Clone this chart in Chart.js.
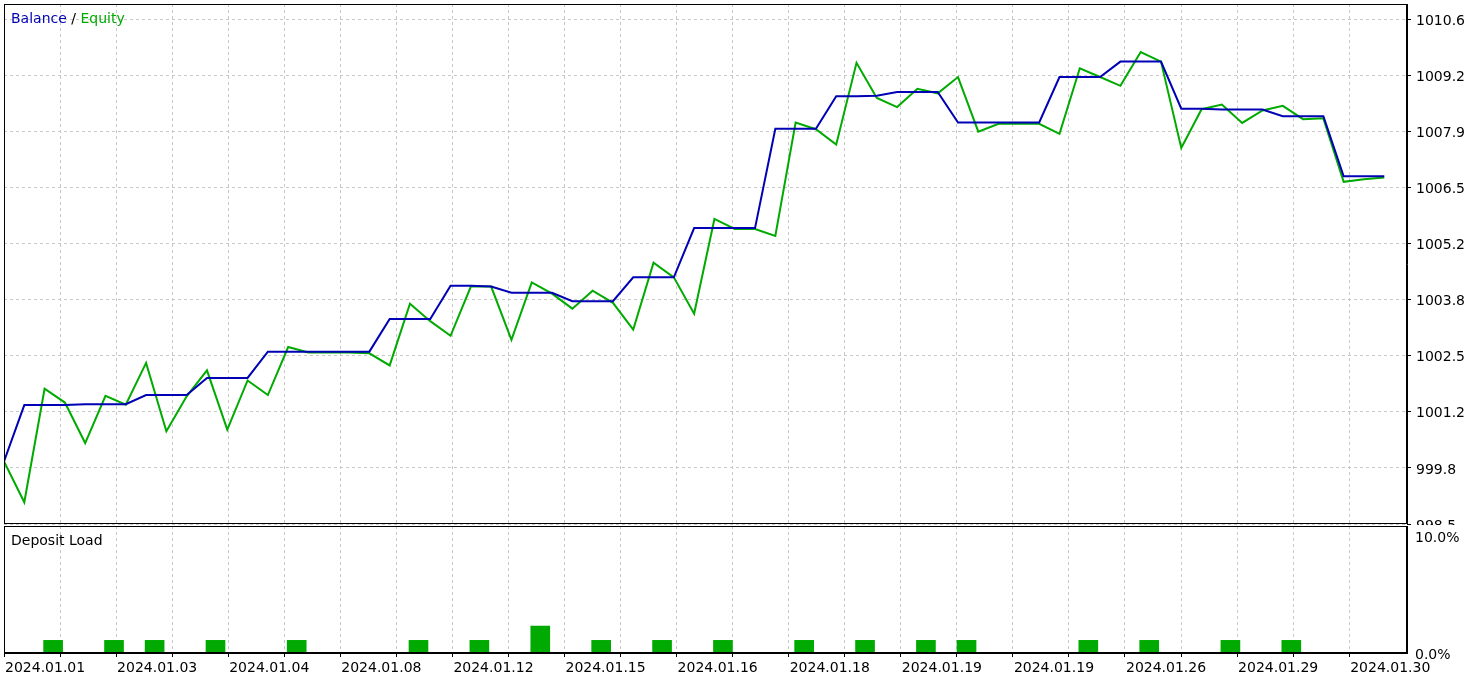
<!DOCTYPE html>
<html lang="en">
<head>
<meta charset="UTF-8">
<title>Balance / Equity</title>
<script src="https://cdn.jsdelivr.net/npm/chart.js@4.4.1/dist/chart.umd.min.js"></script>
<style>
  body { margin: 0; background: #fff; width: 1481px; height: 680px; overflow: hidden; position: relative; font-family: "DejaVu Sans", sans-serif; }
  canvas { display: block; position: absolute; left: 0; }
  #balanceChart { top: 0; }
  #loadChart { top: 525px; }
  .caption { position: absolute; left: 11px; font-size: 14px; line-height: 16px; color: #000; white-space: nowrap; }
</style>
</head>
<body>
<canvas id="balanceChart" width="1481" height="525"></canvas>
<canvas id="loadChart" width="1481" height="155"></canvas>
<div class="caption" style="top:10px"><span style="color:#0000b4">Balance</span> / <span style="color:#00aa00">Equity</span></div>
<div class="caption" style="top:532px">Deposit Load</div>

<script>
// balance and equity after each deal (deal number = position on the x axis)
const balance = [
  1000.00, 1001.35, 1001.35, 1001.35, 1001.37, 1001.37, 1001.37, 1001.59, 1001.59, 1001.59,
  1002.00, 1002.00, 1002.00, 1002.63, 1002.63, 1002.63, 1002.63, 1002.63, 1002.63, 1003.41,
  1003.41, 1003.41, 1004.21, 1004.21, 1004.19, 1004.04, 1004.04, 1004.04, 1003.84, 1003.84,
  1003.84, 1004.41, 1004.41, 1004.41, 1005.59, 1005.59, 1005.59, 1005.59, 1007.97, 1007.97,
  1007.97, 1008.75, 1008.75, 1008.76, 1008.85, 1008.85, 1008.85, 1008.12, 1008.12, 1008.12,
  1008.12, 1008.12, 1009.21, 1009.21, 1009.21, 1009.58, 1009.58, 1009.58, 1008.45, 1008.45,
  1008.43, 1008.43, 1008.43, 1008.27, 1008.27, 1008.27, 1006.83, 1006.83, 1006.83
];
const equity = [
  1000.00, 999.02, 1001.74, 1001.41, 1000.44, 1001.57, 1001.36, 1002.36, 1000.72, 1001.56,
  1002.18, 1000.76, 1001.94, 1001.59, 1002.74, 1002.61, 1002.61, 1002.61, 1002.59, 1002.30,
  1003.78, 1003.36, 1003.01, 1004.19, 1004.19, 1002.91, 1004.29, 1004.02, 1003.66, 1004.09,
  1003.80, 1003.16, 1004.76, 1004.41, 1003.54, 1005.81, 1005.57, 1005.57, 1005.40, 1008.12,
  1007.96, 1007.59, 1009.55, 1008.71, 1008.49, 1008.93, 1008.82, 1009.21, 1007.90, 1008.09,
  1008.09, 1008.09, 1007.85, 1009.42, 1009.21, 1009.00, 1009.81, 1009.58, 1007.51, 1008.44,
  1008.55, 1008.11, 1008.41, 1008.52, 1008.20, 1008.22, 1006.70, 1006.76, 1006.80
];

// deposit load (%) per deal
const loadDeal  = [2, 5, 7, 10, 14, 20, 23, 26, 29, 32, 35, 39, 42, 45, 47, 53, 56, 60, 63];
const loadValue = [1.08, 1.08, 1.08, 1.08, 1.08, 1.08, 1.08, 2.3, 1.08, 1.08, 1.08, 1.08, 1.08, 1.08, 1.08, 1.08, 1.08, 1.08, 1.08];

const yTickLabels = ['998.5', '999.8', '1001.2', '1002.5', '1003.8', '1005.2', '1006.5', '1007.9', '1009.2', '1010.6'];
const loadTickLabels = ['0.0%', '10.0%'];
const loadTicks = [0, 10];
const xDateLabels = ['2024.01.01', '2024.01.03', '2024.01.04', '2024.01.08', '2024.01.12', '2024.01.15',
  '2024.01.16', '2024.01.18', '2024.01.19', '2024.01.19', '2024.01.26', '2024.01.29', '2024.01.30'];

// axis ranges
const yMin = 998.5;
const yStep = (1010.6 - 998.5) / 9;
const yMax = 1010.96;
const loadMax = 10.85;
const xMax = 69.12;
const gridStep = 2.7613;   // one grid cell in deal units
const gridCount = 25;
const barShift = 0.42;

Chart.defaults.font.family = 'DejaVu Sans';
Chart.defaults.font.size = 14;
Chart.defaults.color = '#000';
Chart.defaults.animation = false;

const GRID = '#c8c8c8';

const frame = {
  id: 'frame',
  afterDraw(chart) {
    const a = chart.chartArea, ctx = chart.ctx;
    ctx.save();
    ctx.setLineDash([]);
    ctx.strokeStyle = '#000';
    ctx.lineWidth = 1;
    ctx.strokeRect(a.left + 0.5, a.top + 0.5, a.right - a.left - 1, a.bottom - a.top - 1);
    ctx.restore();
  }
};

function gridTicks(scale) {
  const t = [];
  for (let k = 0; k < gridCount; k++) t.push({ value: k * gridStep });
  scale.ticks = t;
}

new Chart(document.getElementById('balanceChart'), {
  type: 'line',
  data: {
    datasets: [
      {
        label: 'Balance',
        data: balance.map((v, i) => ({ x: i, y: v })),
        borderColor: '#0000b4',
        borderWidth: 2,
        pointRadius: 0,
        tension: 0
      },
      {
        label: 'Equity',
        data: equity.map((v, i) => ({ x: i, y: v })),
        borderColor: '#00aa00',
        borderWidth: 2,
        pointRadius: 0,
        tension: 0
      }
    ]
  },
  options: {
    responsive: false,
    layout: { padding: { left: 4, top: 4, right: 0, bottom: 1 } },
    plugins: { legend: { display: false }, tooltip: { enabled: false } },
    scales: {
      x: {
        type: 'linear',
        min: 0,
        max: xMax,
        afterBuildTicks: gridTicks,
        ticks: { display: false },
        grid: { color: GRID, drawTicks: false },
        border: { display: false, dash: [3, 3] }
      },
      y: {
        position: 'right',
        min: yMin,
        max: yMax,
        afterBuildTicks: (scale) => { scale.ticks = yTickLabels.map((_, k) => ({ value: yMin + k * yStep })); },
        afterFit: (scale) => { scale.width = 74; scale.paddingTop = 0; scale.paddingBottom = 0; },
        ticks: {
          autoSkip: false,
          padding: 5,
          labelOffset: 2,
          callback: (v, i) => yTickLabels[i]
        },
        grid: { color: GRID, tickLength: 4, tickColor: '#000', tickBorderDash: [] },
        border: { display: true, color: '#000', dash: [3, 3] }
      }
    }
  },
  plugins: [frame]
});

new Chart(document.getElementById('loadChart'), {
  type: 'bar',
  data: {
    datasets: [{
      label: 'Deposit Load',
      data: loadDeal.map((d, j) => ({ x: d + barShift, y: loadValue[j] })),
      backgroundColor: '#00aa00',
      borderWidth: 0,
      barThickness: 19
    }]
  },
  options: {
    responsive: false,
    layout: { padding: { left: 4, top: 1, right: 0, bottom: 0 } },
    plugins: { legend: { display: false }, tooltip: { enabled: false } },
    scales: {
      x: {
        type: 'linear',
        offset: false,
        min: 0,
        max: xMax,
        afterBuildTicks: gridTicks,
        afterFit: (scale) => { scale.height = 27; scale.paddingLeft = 0; scale.paddingRight = 0; },
        ticks: {
          autoSkip: false,
          maxRotation: 0,
          align: 'start',
          padding: 3,
          labelOffset: 1,
          callback: (v, i) => (i % 2 === 0 ? xDateLabels[i / 2] : '')
        },
        grid: { offset: false, color: GRID, tickLength: 4, tickColor: '#000', tickBorderDash: [] },
        border: { display: true, color: '#000', dash: [3, 3] }
      },
      y: {
        position: 'right',
        min: 0,
        max: loadMax,
        afterBuildTicks: (scale) => { scale.ticks = loadTicks.map(v => ({ value: v })); },
        afterFit: (scale) => { scale.width = 74; scale.paddingTop = 0; scale.paddingBottom = 0; },
        ticks: {
          autoSkip: false,
          padding: 8,
          labelOffset: 2,
          callback: (v, i) => loadTickLabels[i]
        },
        grid: { display: false, drawTicks: false },
        border: { display: true, color: '#000' }
      }
    }
  },
  plugins: [frame]
});
</script>
</body>
</html>
